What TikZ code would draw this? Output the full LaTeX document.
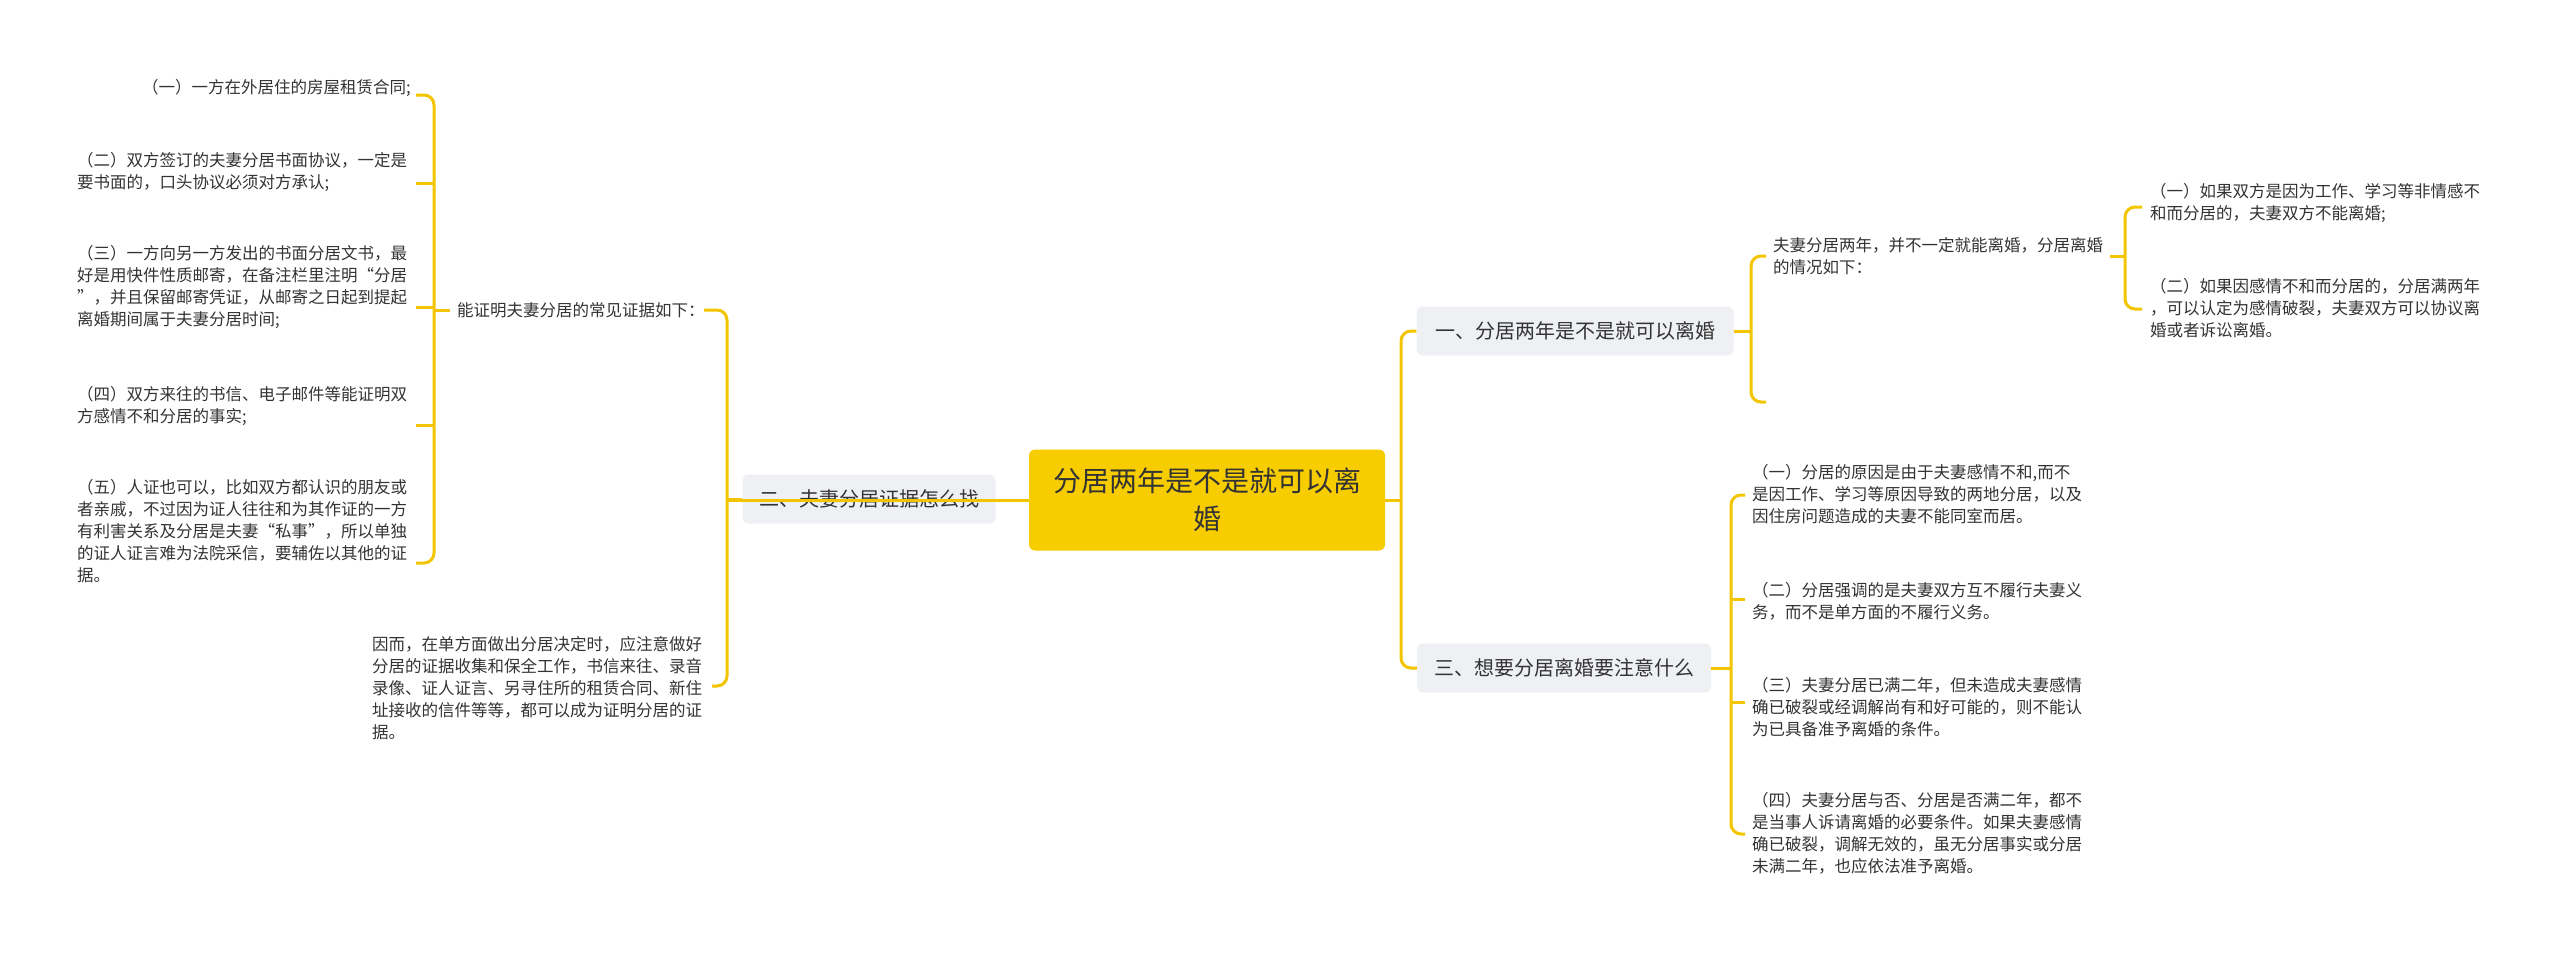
\documentclass[tikz,border=0pt]{standalone}
\usepackage{fontspec}
\setmainfont{Noto Sans CJK SC}
\usetikzlibrary{calc, positioning}
\definecolor{gold}{HTML}{F2C500}
\definecolor{rootfill}{HTML}{F7CD00}
\definecolor{boxfill}{HTML}{EEF0F3}
\definecolor{ink}{HTML}{333333}

\begin{document}
\begin{tikzpicture}[x=1pt,y=-1pt,
  root/.style={fill=rootfill, rounded corners=6pt, minimum width=356pt, minimum height=101pt, align=center, font=\fontsize{28}{38}\selectfont, text=ink},
  topic/.style={fill=boxfill, rounded corners=6pt, minimum height=49pt, font=\fontsize{20}{24}\selectfont, text=ink},
  leaf/.style={inner sep=0pt, align=left, font=\fontsize{16.5}{22}\selectfont, text=ink},
  link/.style={draw=gold, line width=3pt, rounded corners=10pt}]
  \useasboundingbox (0,0) rectangle (2560,956);

  \node[root] (r) at (1207,500) {分居两年是不是就可以离\\婚};
  \node[topic, minimum width=317pt] (b1) at (1575,331) {一、分居两年是不是就可以离婚};
  \node[topic, minimum width=253pt] (b2) at (869,499) {二、夫妻分居证据怎么找};
  \node[topic, minimum width=294pt] (b3) at (1564,668) {三、想要分居离婚要注意什么};

  % left side
  \node[leaf, anchor=north east] (l1) at (411,79) {（一）一方在外居住的房屋租赁合同;};
  \node[leaf, anchor=north west] (l2) at (77,152) {（二）双方签订的夫妻分居书面协议，一定是\\要书面的，口头协议必须对方承认;};
  \node[leaf, anchor=north west] (l3) at (77,245) {（三）一方向另一方发出的书面分居文书，最\\好是用快件性质邮寄，在备注栏里注明“分居\\”，并且保留邮寄凭证，从邮寄之日起到提起\\离婚期间属于夫妻分居时间;};
  \node[leaf, anchor=north west] (l4) at (77,386) {（四）双方来往的书信、电子邮件等能证明双\\方感情不和分居的事实;};
  \node[leaf, anchor=north west] (l5) at (77,479) {（五）人证也可以，比如双方都认识的朋友或\\者亲戚，不过因为证人往往和为其作证的一方\\有利害关系及分居是夫妻“私事”，所以单独\\的证人证言难为法院采信，要辅佐以其他的证\\据。};
  \node[leaf, anchor=west] (lm) at (457,310) {能证明夫妻分居的常见证据如下：};
  \node[leaf, anchor=north west] (lf) at (372,636) {因而，在单方面做出分居决定时，应注意做好\\分居的证据收集和保全工作，书信来往、录音\\录像、证人证言、另寻住所的租赁合同、新住\\址接收的信件等等，都可以成为证明分居的证\\据。};

  % right side
  \node[leaf, anchor=north west] (t1) at (1773,237) {夫妻分居两年，并不一定就能离婚，分居离婚\\的情况如下：};
  \node[leaf, anchor=north west] (t1a) at (2150,183) {（一）如果双方是因为工作、学习等非情感不\\和而分居的，夫妻双方不能离婚;};
  \node[leaf, anchor=north west] (t1b) at (2150,278) {（二）如果因感情不和而分居的，分居满两年\\，可以认定为感情破裂，夫妻双方可以协议离\\婚或者诉讼离婚。};
  \node[leaf, anchor=north west] (s1) at (1752,464) {（一）分居的原因是由于夫妻感情不和,而不\\是因工作、学习等原因导致的两地分居，以及\\因住房问题造成的夫妻不能同室而居。};
  \node[leaf, anchor=north west] (s2) at (1752,582) {（二）分居强调的是夫妻双方互不履行夫妻义\\务，而不是单方面的不履行义务。};
  \node[leaf, anchor=north west] (s3) at (1752,677) {（三）夫妻分居已满二年，但未造成夫妻感情\\确已破裂或经调解尚有和好可能的，则不能认\\为已具备准予离婚的条件。};
  \node[leaf, anchor=north west] (s4) at (1752,792) {（四）夫妻分居与否、分居是否满二年，都不\\是当事人诉请离婚的必要条件。如果夫妻感情\\确已破裂，调解无效的，虽无分居事实或分居\\未满二年，也应依法准予离婚。};

  \coordinate (l1e) at (416,95);
  \coordinate (l2e) at (416,183);
  \coordinate (l3e) at (416,307);
  \coordinate (l4e) at (416,425);
  \coordinate (l5e) at (416,563);
  \coordinate (lmw) at (450,310);
  \coordinate (lme) at (704,310);
  \coordinate (lfe) at (712,686);
  \coordinate (t1w) at (1766,256);
  \coordinate (t1x) at (1766,402);
  \coordinate (t1e) at (2110,256);
  \coordinate (t1ae) at (2142,207);
  \coordinate (t1be) at (2142,309);
  \foreach \n/\yy in {s1/495, s2/599, s3/702, s4/834}
    \coordinate (\n e) at (1745,\yy);
  \coordinate (lt) at (434,0);
  \coordinate (rt) at (1731,0);

  % brackets
  \draw[link] (r.east) -- (1401,500);
  \draw[link] (b1.west) -| (1401,500) |- (b3.west);
  \draw[link] (r.west) -- (727,500);
  \draw[link] (lme) -| (727,499) |- (lfe);
  \draw[link] (727,499) -- (b2.west);
  \draw[link] (l1e) -| (434,310) |- (l5e);
  \draw[link] (434,310) -- (lmw);
  \foreach \n in {l2e, l3e, l4e}
    \draw[link] (\n) -- (\n -| lt);
  \draw[link] (b1.east) -- (1751,331);
  \draw[link] (t1w) -| (1751,331) |- (t1x);
  \draw[link] (t1e) -- (2125,256);
  \draw[link] (t1ae) -| (2125,256) |- (t1be);
  \draw[link] (b3.east) -- (1731,668);
  \draw[link] (s1e) -| (1731,668) |- (s4e);
  \draw[link] (s2e) -- (s2e -| rt);
  \draw[link] (s3e) -- (s3e -| rt);
\end{tikzpicture}
\end{document}
